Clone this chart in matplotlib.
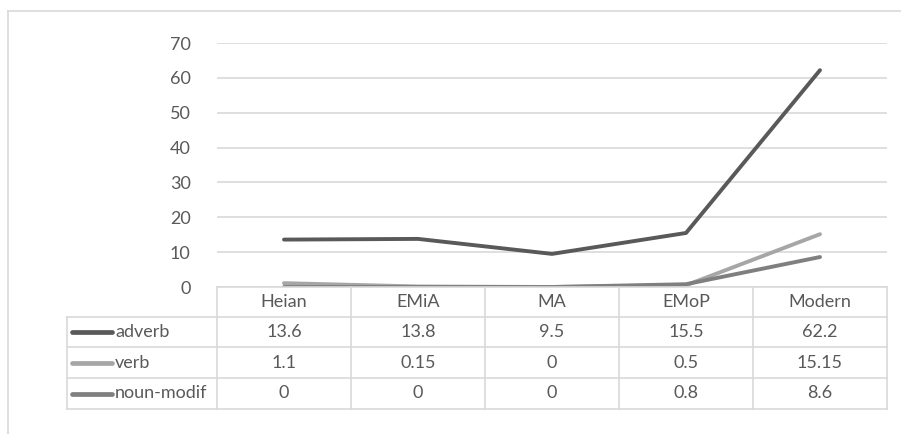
import matplotlib.pyplot as plt
from matplotlib.lines import Line2D

# periods and series
periods = ['Heian', 'EMiA', 'MA', 'EMoP', 'Modern']
series_names = ['adverb', 'verb', 'noun-modif']
adverb = [13.6, 13.8, 9.5, 15.5, 62.2]
verb = [1.1, 0.15, 0, 0.5, 15.15]
noun_modif = [0, 0, 0, 0.8, 8.6]
cell_text = [['13.6', '13.8', '9.5', '15.5', '62.2'],
             ['1.1', '0.15', '0', '0.5', '15.15'],
             ['0', '0', '0', '0.8', '8.6']]
yticks = [0, 10, 20, 30, 40, 50, 60, 70]

colors = ['#595959', '#a6a6a6', '#7f7f7f']
grid_col = '#d9d9d9'
text_col = '#595959'
fs = 13
plt.rcParams['font.family'] = ['Lato', 'DejaVu Sans']

W, H = 901, 434
fig = plt.figure(figsize=(W / 100, H / 100), dpi=100)


def px_axes(x0, y0, x1, y1):
    # pixel box (top-left origin) -> axes
    return fig.add_axes([x0 / W, 1 - y1 / H, (x1 - x0) / W, (y1 - y0) / H])


## outer chart frame (cropped on right and bottom)
fig.add_artist(Line2D([8 / W, 1], [1 - 11 / H, 1 - 11 / H], color=grid_col, lw=1.2))
fig.add_artist(Line2D([8 / W, 8 / W], [0, 1 - 11 / H], color=grid_col, lw=1.2))

## line chart
ax = px_axes(217, 43, 887, 287)
x = range(len(periods))
for vals, c in zip([adverb, verb, noun_modif], colors):
    ax.plot(x, vals, color=c, lw=2.8, solid_capstyle='round', zorder=3)
ax.set_xlim(-0.5, len(periods) - 0.5)
ax.set_ylim(0, 70)
ax.set_yticks(yticks)
ax.set_xticks([])
ax.tick_params(axis='y', length=0, pad=19, labelsize=fs, labelcolor=text_col)
ax.grid(axis='y', color=grid_col, lw=1.2)
ax.set_axisbelow(True)
for s in ax.spines.values():
    s.set_visible(False)

## data table with legend keys
row_tops = [287, 317, 347, 378, 409]
tax = px_axes(67, 287, 887, 409)
left_units = 150 / 134
tax.set_xlim(-0.5 - left_units, len(periods) - 0.5)
tax.set_ylim(row_tops[-1], row_tops[0])
tax.axis('off')
xl = -0.5 - left_units
xr = len(periods) - 0.5

# horizontal borders
tax.plot([-0.5, xr], [row_tops[0]] * 2, color=grid_col, lw=1.2, clip_on=False)
for yy in row_tops[1:]:
    tax.plot([xl, xr], [yy, yy], color=grid_col, lw=1.2, clip_on=False)
# vertical borders
tax.plot([xl, xl], [row_tops[1], row_tops[-1]], color=grid_col, lw=1.2, clip_on=False)
for i in range(len(periods) + 1):
    tax.plot([i - 0.5] * 2, [row_tops[0], row_tops[-1]], color=grid_col, lw=1.2, clip_on=False)

# header
for i, p in enumerate(periods):
    tax.text(i, (row_tops[0] + row_tops[1]) / 2, p, ha='center', va='center',
             fontsize=fs, color=text_col)
# rows
for r, (name, c) in enumerate(zip(series_names, colors)):
    yc = (row_tops[r + 1] + row_tops[r + 2]) / 2
    tax.plot([xl + 5 / 134, xl + 45 / 134], [yc, yc], color=c, lw=3.4,
             solid_capstyle='round', clip_on=False)
    tax.text(xl + 48 / 134, yc, name, ha='left', va='center', fontsize=fs, color=text_col)
    for i, t in enumerate(cell_text[r]):
        tax.text(i, yc, t, ha='center', va='center', fontsize=fs, color=text_col)

fig.savefig('out.png', dpi=100, facecolor='white')
